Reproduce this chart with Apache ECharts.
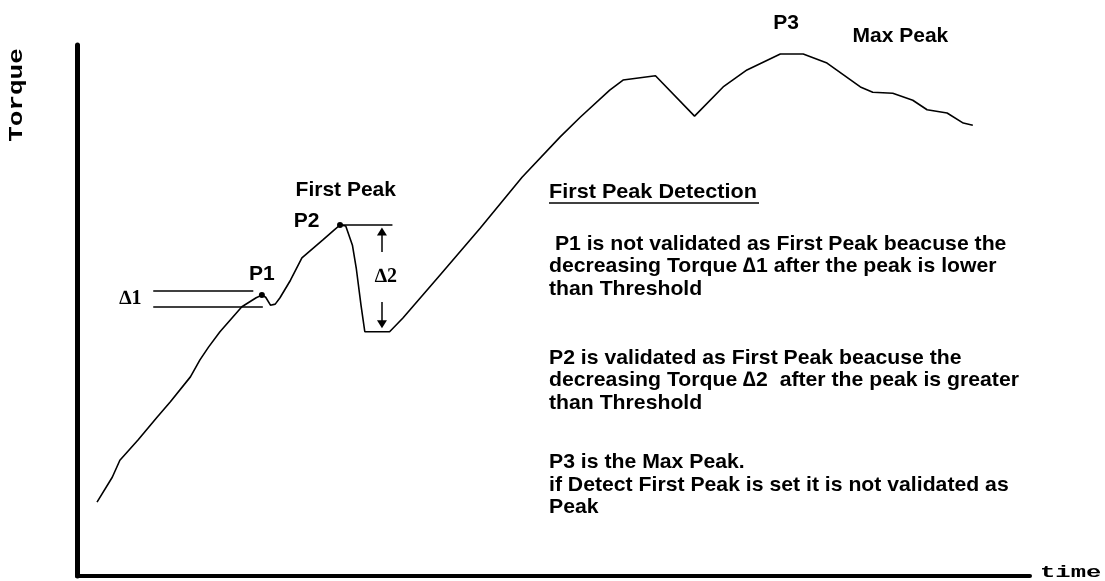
<!DOCTYPE html>
<html>
<head>
<meta charset="utf-8">
<script src="https://cdn.jsdelivr.net/npm/echarts@6/dist/echarts.min.js"></script>
<style>
  html, body { margin: 0; padding: 0; background: #fff; }
  #chart { width: 1105px; height: 581px; }
</style>
</head>
<body>
<div id="chart"></div>
<script>
// torque curve (time 0-100, torque 0-100)
const timeVals = [2.1, 3.7, 4.5, 6.4, 8.4, 9.8, 11.9, 12.9, 13.8, 15.0, 17.3, 18.8, 19.4, 19.8, 20.3, 20.8,
  21.3, 22.4, 23.6, 25.8, 27.0, 27.6, 28.2, 28.9, 29.3, 29.8, 30.2, 32.8, 34.2, 38.1, 42.3, 46.7,
  50.7, 52.8, 55.9, 57.3, 60.7, 64.8, 67.8, 70.3, 73.8, 76.2, 78.7, 82.2, 83.5, 85.6, 87.7, 89.2,
  91.3, 93.0, 94.0];
const torqueVals = [13.9, 18.6, 21.8, 25.6, 29.9, 32.8, 37.5, 40.7, 43.1, 46.0, 50.7, 52.4, 52.9, 52.5, 51.0, 51.2,
  52.4, 55.7, 59.9, 63.3, 65.2, 66.1, 65.9, 62.3, 58.0, 51.0, 46.0, 46.0, 48.6, 56.7, 65.5, 75.1,
  82.7, 86.4, 91.5, 93.4, 94.2, 86.6, 92.1, 95.3, 98.3, 98.3, 96.6, 92.1, 91.1, 90.9, 89.6, 87.8,
  87.2, 85.3, 84.9];

// peak points
const peakNames = ['P1', 'P2'];
const peakTime = [19.4, 27.6];
const peakTorque = [52.9, 66.1];

// annotation labels (placed in data units)
const noteTexts = ['P1', 'P2', 'First Peak', 'P3', 'Max Peak'];
const noteTime = [19.4, 24.1, 28.2, 74.4, 86.4];
const noteTorque = [56.9, 66.9, 72.7, 104.1, 101.7];

const deltaTexts = ['\u22061', '\u22062'];
const deltaTime = [5.6, 32.4];
const deltaTorque = [52.2, 56.3];

// threshold lines: [x0, y0, x1, y1]
const deltaLines = [
  [8.0, 53.7, 18.5, 53.7],
  [8.0, 50.7, 19.5, 50.7],
  [27.6, 66.1, 33.1, 66.1]
];
const deltaArrows = [
  [32.0, 61.0, 32.0, 64.9],
  [32.0, 51.6, 32.0, 47.4]
];

const titleText = 'First Peak Detection';
const bodyLines = [
  ' P1 is not validated as First Peak beacuse the',
  'decreasing Torque \u22061 after the peak is lower',
  'than Threshold',
  'P2 is validated as First Peak beacuse the',
  'decreasing Torque \u22062  after the peak is greater',
  'than Threshold',
  'P3 is the Max Peak.',
  'if Detect First Peak is set it is not validated as',
  'Peak'
];
const bodyTops = [244, 266, 289, 358, 380, 403, 462, 485, 507];

const chart = echarts.init(document.getElementById('chart'));

const bodyFont = 'bold 21px "Liberation Sans", Arial, sans-serif';

const graphics = [
  {
    type: 'text', x: 17, y: 95, rotation: Math.PI / 2, scaleX: 1.3,
    style: { text: 'Torque', font: 'bold 20px "Liberation Mono", "Courier New", monospace',
      fill: '#000', align: 'center', verticalAlign: 'middle' }
  },
  {
    type: 'text', x: 1040, y: 573, scaleX: 1.6,
    style: { text: 'time', font: 'bold 16px "Liberation Mono", "Courier New", monospace',
      fill: '#000', align: 'left', verticalAlign: 'middle' }
  },
  {
    type: 'text', x: 549, y: 192, scaleX: 1.03,
    style: { text: titleText, font: bodyFont, fill: '#000', align: 'left', verticalAlign: 'middle' }
  },
  {
    type: 'line', shape: { x1: 549, y1: 203, x2: 759, y2: 203 },
    style: { stroke: '#000', lineWidth: 1.5 }
  }
];
bodyLines.forEach((t, i) => {
  graphics.push({
    type: 'text', x: 549, y: bodyTops[i], scaleX: 1.01,
    style: { text: t, font: bodyFont, fill: '#000', align: 'left', verticalAlign: 'middle' }
  });
});

const option = {
  animation: false,
  backgroundColor: '#fff',
  grid: { left: 77, right: 75, top: 45, bottom: 5 },
  xAxis: {
    type: 'value', min: 0, max: 100,
    axisLine: { show: true, onZero: false, lineStyle: { color: '#000', width: 4 } },
    axisTick: { show: false }, axisLabel: { show: false }, splitLine: { show: false }
  },
  yAxis: {
    type: 'value', min: 0, max: 100,
    axisLine: { show: true, onZero: false, lineStyle: { color: '#000', width: 5 } },
    axisTick: { show: false }, axisLabel: { show: false }, splitLine: { show: false }
  },
  series: [
    {
      name: 'Torque',
      type: 'line',
      data: timeVals.map((t, i) => [t, torqueVals[i]]),
      symbol: 'none',
      lineStyle: { color: '#000', width: 1.6 },
      markLine: {
        silent: true,
        symbol: ['none', 'none'],
        label: { show: false },
        lineStyle: { color: '#000', width: 1.5, type: 'solid' },
        data: deltaLines.map(l => [{ coord: [l[0], l[1]] }, { coord: [l[2], l[3]] }])
          .concat(deltaArrows.map(a => [
            { coord: [a[0], a[1]], symbol: 'none' },
            { coord: [a[2], a[3]], symbol: 'triangle', symbolSize: [10, 8] }
          ]))
      }
    },
    {
      name: 'peaks',
      type: 'scatter',
      data: peakNames.map((n, i) => [peakTime[i], peakTorque[i]]),
      symbol: 'circle',
      symbolSize: 6,
      itemStyle: { color: '#000', opacity: 1 }
    },
    {
      name: 'notes',
      type: 'scatter',
      clip: false,
      symbolSize: 0,
      itemStyle: { color: '#000', opacity: 1 },
      data: noteTexts.map((t, i) => ({ value: [noteTime[i], noteTorque[i]], name: t })),
      label: {
        show: true, position: 'inside', formatter: p => p.name,
        color: '#000', fontSize: 21, fontWeight: 'bold', fontFamily: '"Liberation Sans", Arial, sans-serif'
      }
    },
    {
      name: 'deltas',
      type: 'scatter',
      clip: false,
      symbolSize: 0,
      itemStyle: { color: '#000', opacity: 1 },
      data: deltaTexts.map((t, i) => ({ value: [deltaTime[i], deltaTorque[i]], name: t })),
      label: {
        show: true, position: 'inside', formatter: p => p.name,
        color: '#000', fontSize: 20, fontWeight: 'bold', fontFamily: '"Liberation Serif", "Times New Roman", serif'
      }
    }
  ],
  graphic: graphics
};

chart.setOption(option);
</script>
</body>
</html>
